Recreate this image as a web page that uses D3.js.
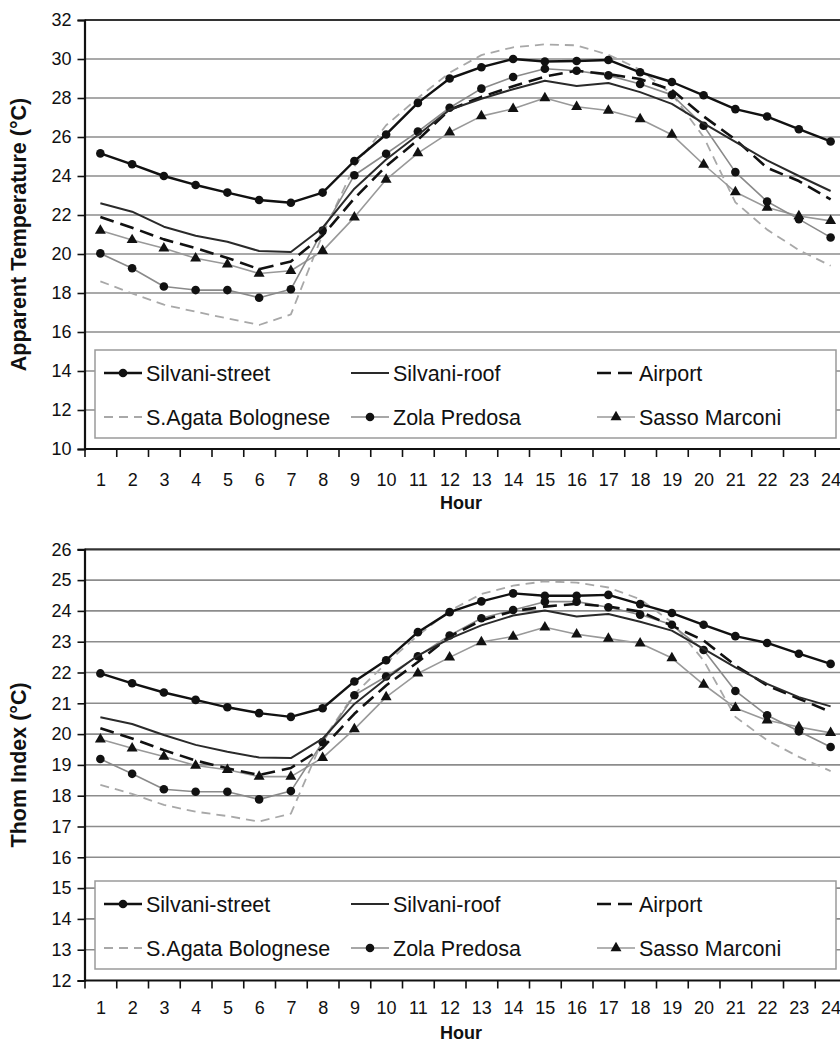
<!DOCTYPE html>
<html>
<head>
<meta charset="utf-8">
<script src="https://cdn.jsdelivr.net/npm/d3@7"></script>
<style>
  html, body { margin: 0; padding: 0; background: #fff; }
  svg { display: block; }
  text { font-family: "Liberation Sans", Arial, sans-serif; fill: #111; }
</style>
</head>
<body>
<svg id="chart" width="840" height="1043"></svg>
<script>
// ---------- DATA ----------
const hours = d3.range(1, 25);
const seriesNames = ["Silvani-street", "Silvani-roof", "Airport", "S.Agata Bolognese", "Zola Predosa", "Sasso Marconi"];

// Apparent Temperature (°C)
const streetAT = [25.16, 24.6, 24.0, 23.54, 23.15, 22.77, 22.63, 23.15, 24.77, 26.13, 27.75, 29.0, 29.58, 30.0, 29.87, 29.9, 29.95, 29.32, 28.82, 28.14, 27.43, 27.05, 26.4, 25.77];
const roofAT   = [22.6, 22.17, 21.4, 20.94, 20.63, 20.15, 20.1, 21.35, 23.35, 24.85, 26.1, 27.4, 27.96, 28.45, 28.88, 28.62, 28.77, 28.3, 27.7, 26.7, 25.75, 24.8, 24.0, 23.23];
const airportAT= [21.9, 21.35, 20.75, 20.3, 19.8, 19.22, 19.62, 20.95, 22.85, 24.5, 25.85, 27.4, 28.06, 28.6, 29.1, 29.4, 29.22, 28.97, 28.42, 27.06, 25.87, 24.42, 23.74, 22.8];
const sagataAT = [18.6, 17.98, 17.4, 17.04, 16.7, 16.36, 16.9, 21.0, 24.5, 26.6, 28.0, 29.3, 30.2, 30.6, 30.75, 30.7, 30.22, 29.45, 28.2, 26.0, 22.65, 21.25, 20.2, 19.4];
const zolaAT   = [20.03, 19.27, 18.33, 18.15, 18.15, 17.76, 18.19, 21.2, 24.04, 25.14, 26.28, 27.5, 28.48, 29.08, 29.5, 29.4, 29.16, 28.72, 28.16, 26.58, 24.2, 22.69, 21.79, 20.85];
const sassoAT  = [21.2, 20.72, 20.29, 19.78, 19.47, 19.0, 19.14, 20.16, 21.88, 23.82, 25.17, 26.24, 27.07, 27.45, 28.0, 27.55, 27.36, 26.92, 26.12, 24.59, 23.18, 22.38, 21.95, 21.7];

// Thom Index (°C)
const streetTI = [21.97, 21.65, 21.35, 21.11, 20.87, 20.68, 20.56, 20.84, 21.71, 22.4, 23.31, 23.96, 24.31, 24.57, 24.49, 24.49, 24.52, 24.22, 23.93, 23.55, 23.18, 22.96, 22.61, 22.28];
const roofTI   = [20.55, 20.33, 19.97, 19.65, 19.43, 19.24, 19.22, 19.85, 20.98, 21.8, 22.55, 23.1, 23.53, 23.85, 24.01, 23.82, 23.9, 23.65, 23.36, 22.77, 22.17, 21.63, 21.2, 20.9];
const airportTI= [20.19, 19.86, 19.48, 19.14, 18.89, 18.67, 18.9, 19.55, 20.66, 21.58, 22.34, 23.17, 23.69, 23.99, 24.14, 24.23, 24.14, 23.98, 23.52, 23.04, 22.23, 21.58, 21.15, 20.72];
const sagataTI = [18.35, 18.06, 17.7, 17.48, 17.34, 17.16, 17.42, 19.8, 21.3, 22.3, 23.2, 24.0, 24.55, 24.82, 24.96, 24.92, 24.76, 24.38, 23.63, 22.39, 20.56, 19.8, 19.26, 18.8];
const zolaTI   = [19.19, 18.71, 18.21, 18.13, 18.13, 17.88, 18.15, 19.74, 21.26, 21.87, 22.53, 23.2, 23.76, 24.03, 24.3, 24.3, 24.12, 23.88, 23.55, 22.73, 21.4, 20.61, 20.09, 19.58];
const sassoTI  = [19.83, 19.54, 19.27, 18.98, 18.84, 18.62, 18.62, 19.23, 20.16, 21.2, 21.97, 22.49, 22.99, 23.17, 23.47, 23.24, 23.1, 22.95, 22.47, 21.61, 20.85, 20.45, 20.23, 20.04];

const ticksAT = [10, 12, 14, 16, 18, 20, 22, 24, 26, 28, 30, 32];
const ticksTI = [12, 13, 14, 15, 16, 17, 18, 19, 20, 21, 22, 23, 24, 25, 26];

// ---------- STYLES ----------
const styles = {
  "Silvani-street":    { stroke: "#111", width: 2.4, dash: null,   marker: "circle" },
  "Silvani-roof":      { stroke: "#2a2a2a", width: 2.0, dash: null, marker: null },
  "Airport":           { stroke: "#111", width: 2.6, dash: "14,7", marker: null },
  "S.Agata Bolognese": { stroke: "#a8a8a8", width: 1.8, dash: "9,6", marker: null },
  "Zola Predosa":      { stroke: "#8a8a8a", width: 1.6, dash: null, marker: "circle" },
  "Sasso Marconi":     { stroke: "#999", width: 1.6, dash: null, marker: "triangle" }
};
const drawOrder = ["S.Agata Bolognese", "Sasso Marconi", "Zola Predosa", "Airport", "Silvani-roof", "Silvani-street"];

const svg = d3.select("#chart");

function drawMarker(g, type, x, y) {
  if (type === "circle") {
    g.append("circle").attr("cx", x).attr("cy", y).attr("r", 4.3).attr("fill", "#111");
  } else if (type === "triangle") {
    const sym = d3.symbol().type(d3.symbolTriangle).size(52);
    g.append("path").attr("d", sym()).attr("transform", `translate(${x},${y})`).attr("fill", "#111");
  }
}

function drawPanel(cfg) {
  const g = svg.append("g");
  const x = d3.scaleLinear().domain([0.5, 24.5]).range([cfg.left, cfg.left + 24 * 31.75]);
  const y = d3.scaleLinear().domain([cfg.yMin, cfg.yMax]).range([cfg.bottom, cfg.top]);

  // gridlines
  g.append("g").selectAll("line").data(cfg.ticks.filter(t => t !== cfg.yMin && t !== cfg.yMax))
    .join("line")
    .attr("x1", cfg.left).attr("x2", 845)
    .attr("y1", d => y(d)).attr("y2", d => y(d))
    .attr("stroke", "#8c8c8c").attr("stroke-width", 1.6);
  // top border
  g.append("line").attr("x1", cfg.left).attr("x2", 845).attr("y1", y(cfg.yMax)).attr("y2", y(cfg.yMax))
    .attr("stroke", "#333").attr("stroke-width", 2.2);

  // series
  const line = d3.line().x((d, i) => x(hours[i])).y(d => y(d));
  drawOrder.forEach(name => {
    const st = styles[name];
    const vals = cfg.data[name];
    g.append("path").datum(vals).attr("d", line)
      .attr("fill", "none").attr("stroke", st.stroke).attr("stroke-width", st.width)
      .attr("stroke-dasharray", st.dash).attr("stroke-linejoin", "round");
    if (st.marker) {
      const mg = g.append("g");
      vals.forEach((v, i) => drawMarker(mg, st.marker, x(hours[i]), y(v)));
    }
  });

  // legend
  const lg = g.append("g");
  lg.append("rect").attr("x", 95).attr("y", cfg.legendTop).attr("width", 741).attr("height", 88)
    .attr("fill", "#fff").attr("stroke", "#9a9a9a").attr("stroke-width", 1.5);
  const cols = [104, 351, 597];
  seriesNames.forEach((name, i) => {
    const st = styles[name];
    const cx = cols[i % 3];
    const cy = cfg.legendTop + (i < 3 ? 23 : 67);
    lg.append("line").attr("x1", cx).attr("x2", cx + 38).attr("y1", cy).attr("y2", cy)
      .attr("stroke", st.stroke).attr("stroke-width", st.width).attr("stroke-dasharray", st.dash);
    if (st.marker) drawMarker(lg, st.marker, cx + 19, cy);
    lg.append("text").attr("x", cx + 42).attr("y", cy + 7.5).attr("font-size", 21.5).text(name);
  });

  // y axis
  const yAxis = d3.axisLeft(y).tickValues(cfg.ticks).tickSize(7).tickPadding(6).tickFormat(d3.format("d"));
  const ya = g.append("g").attr("transform", `translate(${cfg.left},0)`).call(yAxis);
  ya.select(".domain").attr("stroke", "#111").attr("stroke-width", 2.2);
  ya.selectAll(".tick line").attr("stroke", "#111").attr("stroke-width", 1.6);
  ya.selectAll(".tick text").attr("font-size", 18).attr("font-family", "Liberation Sans, Arial, sans-serif").attr("fill", "#111");

  // x axis: boundary ticks
  const xTicks = d3.axisBottom(x).tickValues(d3.range(0.5, 25, 1)).tickSize(8).tickFormat("");
  const xa = g.append("g").attr("transform", `translate(0,${cfg.bottom})`).call(xTicks);
  xa.select(".domain").attr("stroke", "#111").attr("stroke-width", 2.2).attr("d", `M${cfg.left},0H845`);
  xa.selectAll(".tick line").attr("stroke", "#111").attr("stroke-width", 1.6);
  // x labels
  const xLabels = d3.axisBottom(x).tickValues(hours).tickSize(0).tickPadding(cfg.labelPad).tickFormat(d3.format("d"));
  const xl = g.append("g").attr("transform", `translate(0,${cfg.bottom})`).call(xLabels);
  xl.select(".domain").remove();
  xl.selectAll(".tick text").attr("font-size", 18).attr("font-family", "Liberation Sans, Arial, sans-serif").attr("fill", "#111");

  // titles
  g.append("text").attr("x", 461).attr("y", cfg.bottom + cfg.hourOffset).attr("text-anchor", "middle")
    .attr("font-size", 18).attr("font-weight", "bold").text("Hour");
  g.append("text").attr("transform", `translate(26,${(cfg.top + cfg.bottom) / 2}) rotate(-90)`)
    .attr("text-anchor", "middle").attr("font-size", 21.5).attr("font-weight", "bold").text(cfg.yTitle);
}

drawPanel({
  left: 84.5, top: 20, bottom: 449, yMin: 10, yMax: 32, ticks: ticksAT, legendTop: 350,
  labelPad: 24, hourOffset: 60,
  yTitle: "Apparent Temperature (°C)",
  data: { "Silvani-street": streetAT, "Silvani-roof": roofAT, "Airport": airportAT,
          "S.Agata Bolognese": sagataAT, "Zola Predosa": zolaAT, "Sasso Marconi": sassoAT }
});
drawPanel({
  left: 84.5, top: 549.3, bottom: 980.5, yMin: 12, yMax: 26, ticks: ticksTI, legendTop: 881,
  labelPad: 21, hourOffset: 58.5,
  yTitle: "Thom Index (°C)",
  data: { "Silvani-street": streetTI, "Silvani-roof": roofTI, "Airport": airportTI,
          "S.Agata Bolognese": sagataTI, "Zola Predosa": zolaTI, "Sasso Marconi": sassoTI }
});
</script>
</body>
</html>
